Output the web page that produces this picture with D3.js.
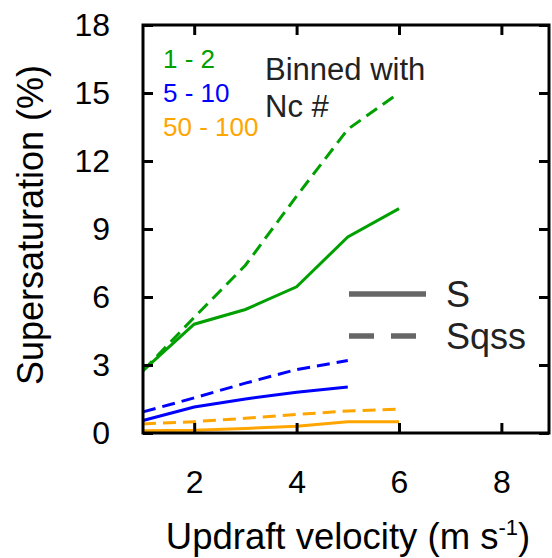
<!DOCTYPE html>
<html>
<head>
<meta charset="utf-8">
<script src="https://cdn.jsdelivr.net/npm/d3@7"></script>
<style>
  html, body { margin: 0; padding: 0; background: #fff; }
  svg { display: block; font-family: "Liberation Sans", Arial, Helvetica, sans-serif; }
</style>
</head>
<body>
<svg id="chart" width="552" height="558"></svg>
<script>
// ---- data ----
const velocity = [1, 2, 3, 4, 5, 6];
const bins = ["1 - 2", "5 - 10", "50 - 100"];
const binColors = ["#00a000", "#0000ff", "#ffa500"];
const S_bin1 = [2.75, 4.8, 5.45, 6.45, 8.65, 9.9];
const Sqss_bin1 = [2.75, 5.1, 7.4, 10.45, 13.4, 15.0];
const S_bin2 = [0.55, 1.15, 1.5, 1.8, 2.03];
const Sqss_bin2 = [0.93, 1.55, 2.2, 2.8, 3.2];
const S_bin3 = [0.1, 0.12, 0.2, 0.3, 0.5, 0.5];
const Sqss_bin3 = [0.4, 0.5, 0.65, 0.82, 0.97, 1.05];
const xTicks = [2, 4, 6, 8];
const yTicks = [0, 3, 6, 9, 12, 15, 18];
const styleNames = ["S", "Sqss"];

const series = [
  { vals: S_bin1, color: binColors[0], dashed: false },
  { vals: Sqss_bin1, color: binColors[0], dashed: true },
  { vals: S_bin2, color: binColors[1], dashed: false },
  { vals: Sqss_bin2, color: binColors[1], dashed: true },
  { vals: S_bin3, color: binColors[2], dashed: false },
  { vals: Sqss_bin3, color: binColors[2], dashed: true }
];

// ---- layout ----
const svg = d3.select("#chart");
const L = 143, R = 549, T = 25, B = 433;
const x = d3.scaleLinear().domain([1, 8.93]).range([L, R]);
const y = d3.scaleLinear().domain([0, 18]).range([B, T]);

// data lines
const line = d3.line().x((d, i) => x(velocity[i])).y(d => y(d));
const g = svg.append("g");
series.forEach(s => {
  g.append("path")
    .datum(s.vals)
    .attr("d", line)
    .attr("fill", "none")
    .attr("stroke", s.color)
    .attr("stroke-width", 3)
    .attr("stroke-dasharray", s.dashed ? "13,7" : null);
});

// axes (ticks inward, mirrored)
const tickLen = 10;
const fsTick = 32;
const axB = d3.axisBottom(x).tickValues(xTicks).tickSizeInner(-tickLen).tickSizeOuter(0).tickPadding(37);
const axT = d3.axisTop(x).tickValues(xTicks).tickSizeInner(-tickLen).tickSizeOuter(0).tickFormat("");
const axLft = d3.axisLeft(y).tickValues(yTicks).tickSizeInner(-tickLen).tickSizeOuter(0).tickPadding(33);
const axRgt = d3.axisRight(y).tickValues(yTicks).tickSizeInner(-tickLen).tickSizeOuter(0).tickFormat("");

function styleAxis(sel) {
  sel.select(".domain").remove();
  sel.selectAll(".tick line").attr("stroke", "#000").attr("stroke-width", 3);
  sel.selectAll(".tick text").attr("fill", "#000").attr("font-size", fsTick)
     .attr("font-family", "Liberation Sans, Arial, Helvetica, sans-serif");
}
svg.append("g").attr("transform", `translate(0,${B})`).call(axB).call(styleAxis)
  .selectAll(".tick text").attr("dy", "0.71em");
svg.append("g").attr("transform", `translate(0,${T})`).call(axT).call(styleAxis);
svg.append("g").attr("transform", `translate(${L},0)`).call(axLft).call(styleAxis);
svg.append("g").attr("transform", `translate(${R},0)`).call(axRgt).call(styleAxis);

// frame
svg.append("rect")
  .attr("x", L).attr("y", T).attr("width", R - L).attr("height", B - T)
  .attr("fill", "none").attr("stroke", "#000").attr("stroke-width", 3);

// axis titles
svg.append("text")
  .attr("x", 348).attr("y", 549)
  .attr("text-anchor", "middle").attr("font-size", 36.5).attr("fill", "#000")
  .html('Updraft velocity (m s<tspan dy="-14" font-size="22">-1</tspan><tspan dy="14">)</tspan>');
svg.append("text")
  .attr("transform", "translate(43,225) rotate(-90)")
  .attr("text-anchor", "middle").attr("font-size", 36).attr("fill", "#000")
  .text("Supersaturation (%)");

// bin legend
bins.forEach((b, i) => {
  svg.append("text")
    .attr("x", 163).attr("y", 68 + i * 34)
    .attr("font-size", 26).attr("fill", binColors[i])
    .text(b);
});
svg.append("text").attr("x", 265).attr("y", 80).attr("font-size", 31).attr("fill", "#222").text("Binned with");
svg.append("text").attr("x", 265).attr("y", 117).attr("font-size", 31).attr("fill", "#222").text("Nc #");

// style legend
styleNames.forEach((n, i) => {
  const yy = 294 + i * 42;
  svg.append("line")
    .attr("x1", 349).attr("x2", i === 0 ? 426 : 416)
    .attr("y1", yy).attr("y2", yy)
    .attr("stroke", "#666").attr("stroke-width", 5.5)
    .attr("stroke-dasharray", i === 0 ? null : "25,17");
  svg.append("text")
    .attr("x", 446).attr("y", yy + 13)
    .attr("font-size", 36).attr("fill", "#222")
    .text(n);
});
</script>
</body>
</html>
